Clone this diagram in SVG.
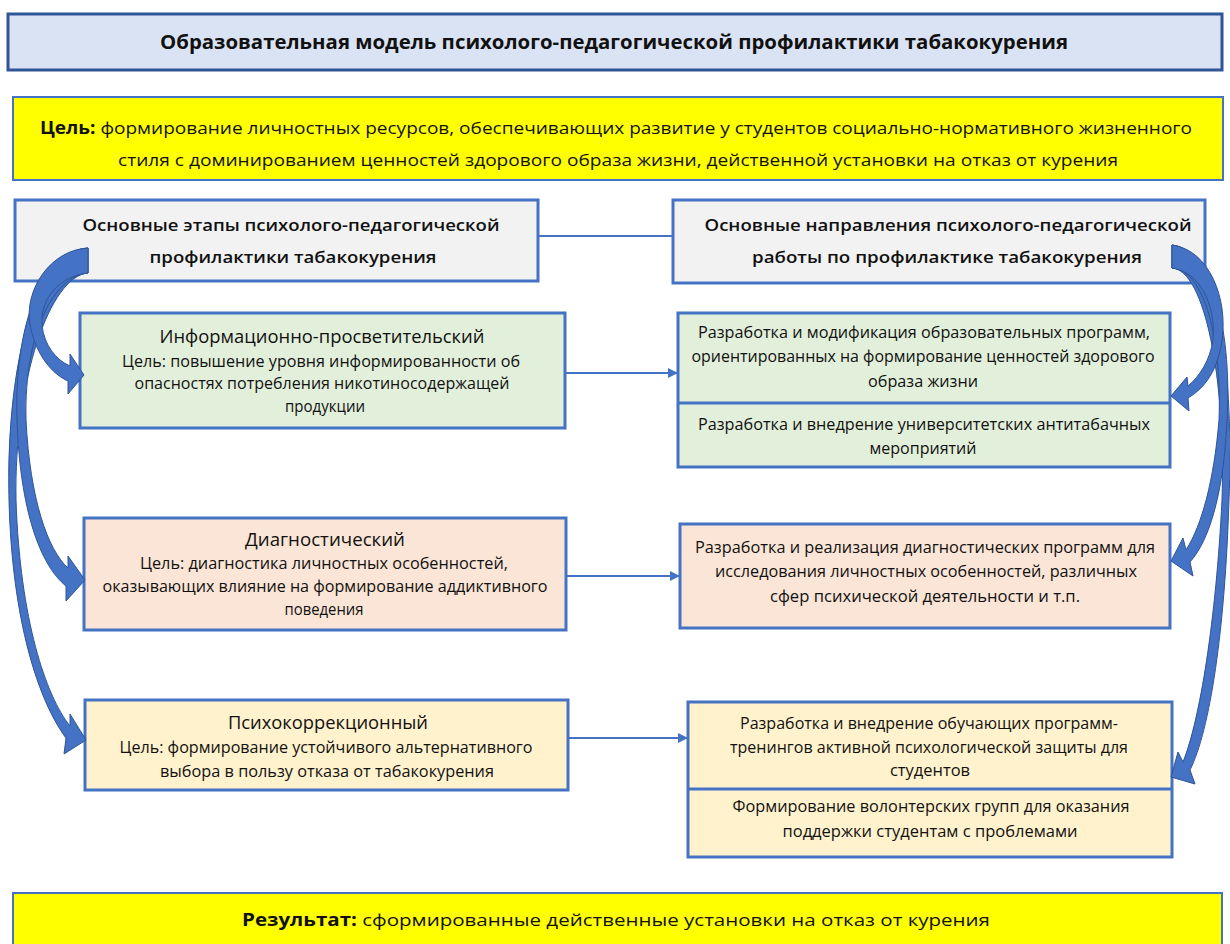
<svg xmlns="http://www.w3.org/2000/svg" width="1230" height="944" viewBox="0 0 1230 944">
<style>
  text { font-family: "Open Sans", "Liberation Sans", sans-serif; fill: #111; text-anchor: middle; }
  .t { font-size: 19px; font-weight: bold; }
  .g { font-size: 17px; }
  .h { font-size: 17px; font-weight: 600; }
  .st { font-size: 17.5px; }
  .b { font-size: 15.5px; }
  .box { stroke: #4472c4; stroke-width: 3; }
  .conn { stroke: #4472c4; stroke-width: 2; fill: none; }
  .ca { fill: #4472c4; stroke: #2f5597; stroke-width: 1; }
</style>
<defs>
  <marker id="ah" viewBox="0 0 10 10" refX="9" refY="5" markerWidth="5" markerHeight="5" orient="auto" markerUnits="strokeWidth">
    <path d="M0,0 L10,5 L0,10 z" fill="#4472c4"/>
  </marker>
</defs>
<rect width="1230" height="944" fill="#ffffff"/>

<g id="title">
  <rect x="8" y="14" width="1214" height="56" fill="#dae3f3" stroke="#2f5597" stroke-width="3"/>
  <text class="t" x="614" y="49" textLength="908" lengthAdjust="spacingAndGlyphs">Образовательная модель психолого-педагогической профилактики табакокурения</text>
</g>

<g id="goal">
  <rect x="13" y="97" width="1210" height="83" fill="#ffff00" stroke="#4472c4" stroke-width="2"/>
  <text class="g" x="616" y="134" textLength="1152" lengthAdjust="spacingAndGlyphs"><tspan font-weight="bold">Цель:</tspan> формирование личностных ресурсов, обеспечивающих развитие у студентов социально-нормативного жизненного</text>
  <text class="g" x="618" y="166" textLength="1000" lengthAdjust="spacingAndGlyphs">стиля с доминированием ценностей здорового образа жизни, действенной установки на отказ от курения</text>
</g>

<g id="stages-header">
  <rect x="15" y="200" width="523" height="81" fill="#f2f2f2" class="box"/>
  <text class="h" x="291" y="231" textLength="417" lengthAdjust="spacingAndGlyphs">Основные этапы психолого-педагогической</text>
  <text class="h" x="293" y="263" textLength="287" lengthAdjust="spacingAndGlyphs">профилактики табакокурения</text>
</g>

<g id="directions-header">
  <rect x="673" y="200" width="532" height="83" fill="#f2f2f2" class="box"/>
  <text class="h" x="948" y="231" textLength="487" lengthAdjust="spacingAndGlyphs">Основные направления психолого-педагогической</text>
  <text class="h" x="947" y="263" textLength="390" lengthAdjust="spacingAndGlyphs">работы по профилактике табакокурения</text>
</g>

<g id="stage-info">
  <rect x="80" y="313" width="485" height="115" fill="#e2efda" class="box"/>
  <text class="st" x="322" y="343" textLength="325" lengthAdjust="spacingAndGlyphs">Информационно-просветительский</text>
  <text class="b" x="321" y="367" textLength="398" lengthAdjust="spacingAndGlyphs">Цель: повышение уровня информированности об</text>
  <text class="b" x="322" y="389" textLength="375" lengthAdjust="spacingAndGlyphs">опасностях потребления никотиносодержащей</text>
  <text class="b" x="325" y="412" textLength="80" lengthAdjust="spacingAndGlyphs">продукции</text>
</g>

<g id="dir-info">
  <rect x="678" y="313" width="492" height="154" fill="#e2efda" class="box"/>
  <line x1="678" y1="403" x2="1170" y2="403" class="box"/>
  <text class="b" x="924" y="338" textLength="452" lengthAdjust="spacingAndGlyphs">Разработка и модификация образовательных программ,</text>
  <text class="b" x="923" y="362" textLength="463" lengthAdjust="spacingAndGlyphs">ориентированных на формирование ценностей здорового</text>
  <text class="b" x="923" y="387" textLength="110" lengthAdjust="spacingAndGlyphs">образа жизни</text>
  <text class="b" x="924" y="430" textLength="452" lengthAdjust="spacingAndGlyphs">Разработка и внедрение университетских антитабачных</text>
  <text class="b" x="923" y="454" textLength="107" lengthAdjust="spacingAndGlyphs">мероприятий</text>
</g>

<g id="stage-diag">
  <rect x="84" y="518" width="482" height="112" fill="#fbe5d6" class="box"/>
  <text class="st" x="325" y="546" textLength="160" lengthAdjust="spacingAndGlyphs">Диагностический</text>
  <text class="b" x="324" y="569" textLength="368" lengthAdjust="spacingAndGlyphs">Цель: диагностика личностных особенностей,</text>
  <text class="b" x="325" y="592" textLength="445" lengthAdjust="spacingAndGlyphs">оказывающих влияние на формирование аддиктивного</text>
  <text class="b" x="324" y="615" textLength="79" lengthAdjust="spacingAndGlyphs">поведения</text>
</g>

<g id="dir-diag">
  <rect x="680" y="524" width="490" height="104" fill="#fbe5d6" class="box"/>
  <text class="b" x="925" y="553" textLength="460" lengthAdjust="spacingAndGlyphs">Разработка и реализация диагностических программ для</text>
  <text class="b" x="926" y="577" textLength="422" lengthAdjust="spacingAndGlyphs">исследования личностных особенностей, различных</text>
  <text class="b" x="925" y="602" textLength="310" lengthAdjust="spacingAndGlyphs">сфер психической деятельности и т.п.</text>
</g>

<g id="stage-psy">
  <rect x="85" y="700" width="483" height="90" fill="#fff2cc" class="box"/>
  <text class="st" x="328" y="729" textLength="200" lengthAdjust="spacingAndGlyphs">Психокоррекционный</text>
  <text class="b" x="326" y="753" textLength="413" lengthAdjust="spacingAndGlyphs">Цель: формирование устойчивого альтернативного</text>
  <text class="b" x="327" y="777" textLength="334" lengthAdjust="spacingAndGlyphs">выбора в пользу отказа от табакокурения</text>
</g>

<g id="dir-psy">
  <rect x="688" y="702" width="484" height="155" fill="#fff2cc" class="box"/>
  <line x1="688" y1="789" x2="1172" y2="789" class="box"/>
  <text class="b" x="929" y="729" textLength="378" lengthAdjust="spacingAndGlyphs">Разработка и внедрение обучающих программ-</text>
  <text class="b" x="929" y="753" textLength="398" lengthAdjust="spacingAndGlyphs">тренингов активной психологической защиты для</text>
  <text class="b" x="930" y="776" textLength="80" lengthAdjust="spacingAndGlyphs">студентов</text>
  <text class="b" x="931" y="812" textLength="397" lengthAdjust="spacingAndGlyphs">Формирование волонтерских групп для оказания</text>
  <text class="b" x="930" y="837" textLength="295" lengthAdjust="spacingAndGlyphs">поддержки студентам с проблемами</text>
</g>

<g id="result">
  <rect x="13" y="893" width="1209" height="60" fill="#ffff00" stroke="#4472c4" stroke-width="2"/>
  <text class="g" x="616" y="926" font-size="19" textLength="748" lengthAdjust="spacingAndGlyphs"><tspan font-weight="bold">Результат:</tspan> сформированные действенные установки на отказ от курения</text>
</g>

<g id="connectors">
  <line x1="538" y1="236" x2="673" y2="236" class="conn"/>
  <line x1="565" y1="373" x2="677" y2="373" class="conn" marker-end="url(#ah)"/>
  <line x1="566" y1="576" x2="679" y2="576" class="conn" marker-end="url(#ah)"/>
  <line x1="568" y1="738" x2="687" y2="738" class="conn" marker-end="url(#ah)"/>
  <!-- left curved block arrows -->
  <path class="ca" d="M 88 248 C 30 252, 6 380, 9 500 C 12 620, 38 700, 66 738 L 64 754 L 86 740 L 70 714 L 70 726 C 46 696, 20 620, 16 500 C 14 380, 50 276, 88 273 Z"/>
  <path class="ca" d="M 88 248 C 40 252, 14 330, 17 420 C 20 510, 40 565, 66 586 L 66 601 L 85 580 L 68 556 L 68 568 C 48 550, 30 500, 26 420 C 24 330, 55 276, 88 273 Z"/>
  <path class="ca" d="M 88 248 C 50 250, 24 290, 30 325 C 36 355, 52 374, 68 381 L 68 394 L 84 375 L 70 354 L 70 366 C 56 360, 44 345, 42 325 C 40 298, 60 276, 88 273 Z"/>
  <!-- right curved block arrows -->
  <path class="ca" d="M 1172 245 C 1220 250, 1234 380, 1229 500 C 1225 630, 1210 730, 1190 770 L 1195 784 L 1171 777 L 1178 752 L 1183 762 C 1200 720, 1216 620, 1222 500 C 1226 380, 1205 270, 1172 268 Z"/>
  <path class="ca" d="M 1172 245 C 1215 250, 1232 340, 1227 420 C 1224 490, 1210 540, 1190 562 L 1193 576 L 1171 561 L 1183 538 L 1186 550 C 1202 525, 1214 480, 1219 420 C 1222 340, 1205 270, 1172 268 Z"/>
  <path class="ca" d="M 1172 245 C 1210 250, 1228 300, 1222 340 C 1218 370, 1205 388, 1188 398 L 1189 411 L 1171 396 L 1187 377 L 1188 386 C 1200 376, 1210 360, 1213 340 C 1216 305, 1200 272, 1172 268 Z"/>
</g>
</svg>
